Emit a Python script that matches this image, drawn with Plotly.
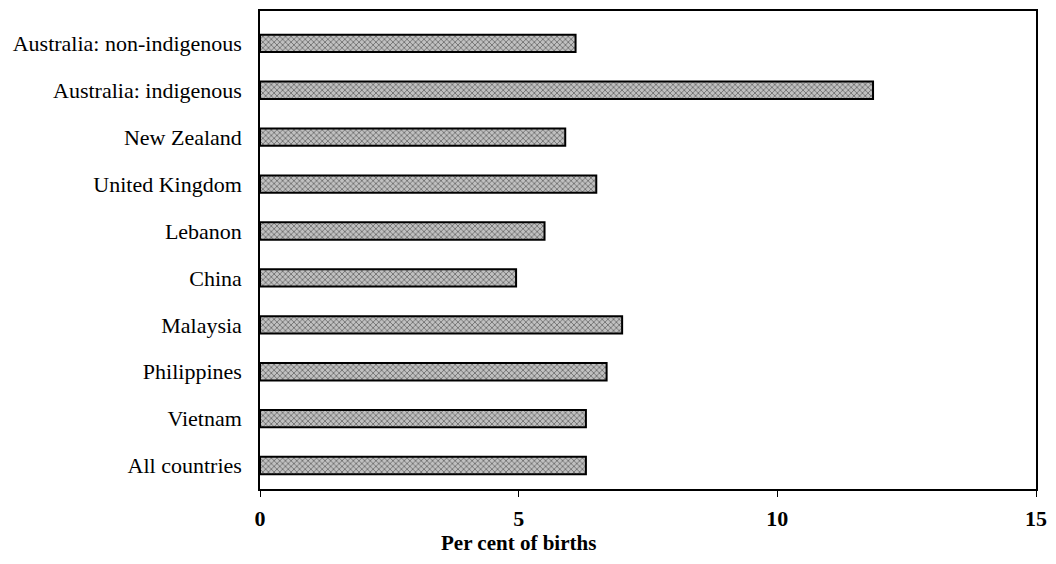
import plotly.graph_objects as go

categories = ["All countries", "Vietnam", "Philippines", "Malaysia", "China",
              "Lebanon", "United Kingdom", "New Zealand", "Australia: indigenous",
              "Australia: non-indigenous"]
values = [6.3, 6.3, 6.7, 7.0, 4.95, 5.5, 6.5, 5.9, 11.85, 6.1]
x_ticks = [0, 5, 10, 15]

fig = go.Figure(go.Bar(
    x=values, y=categories, orientation="h", width=0.37,
    marker=dict(color="#bdbdbd",
                line=dict(color="black", width=2),
                pattern=dict(shape="x", size=4, solidity=0.4,
                             fgcolor="#222222", bgcolor="#c0c0c0")),
))

fig.update_layout(
    width=1040, height=548,
    margin=dict(l=252, r=12, t=1, b=67),
    paper_bgcolor="white", plot_bgcolor="white",
    showlegend=False,
    font=dict(family="Liberation Serif", color="black"),
    annotations=[dict(text="<b>Per cent of births</b>", xref="paper", yref="paper",
                      x=0.3325, y=-0.1395, xanchor="center", yanchor="bottom",
                      borderpad=0, showarrow=False,
                      font=dict(size=21, family="Liberation Serif"))],
)
fig.update_xaxes(range=[0, 15], tickvals=x_ticks,
                 ticktext=[f"<b>{t}</b>" for t in x_ticks],
                 tickfont=dict(size=22), showgrid=False, zeroline=False,
                 showline=True, linecolor="black", linewidth=1.5, mirror=True,
                 ticks="outside", ticklen=6, tickcolor="black",
                 ticklabelstandoff=3)
fig.update_yaxes(categoryorder="array", categoryarray=categories,
                 range=[-0.5, 9.69], tickfont=dict(size=22), showgrid=False,
                 showline=True, linecolor="black", linewidth=1.5, mirror=True,
                 ticks="", ticklabelstandoff=12)

fig.write_html("out.html")
